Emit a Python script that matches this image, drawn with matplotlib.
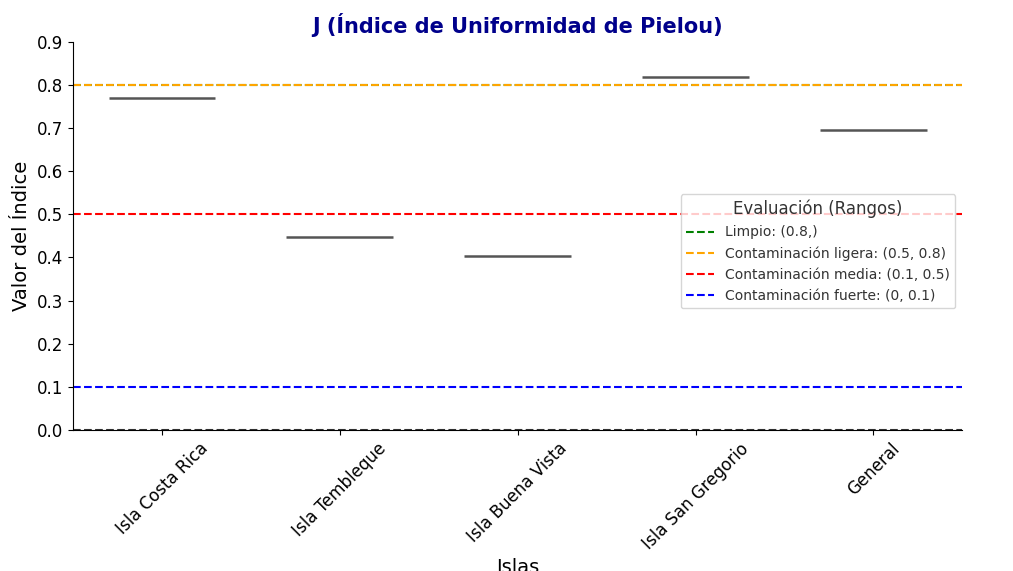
import matplotlib.pyplot as plt
import numpy as np

islas = ['Isla Costa Rica', 'Isla Tembleque', 'Isla Buena Vista', 'Isla San Gregorio', 'General']
valores_j = [0.770, 0.448, 0.404, 0.818, 0.695]

rangos = ['Limpio: (0.8,)', 'Contaminación ligera: (0.5, 0.8)',
          'Contaminación media: (0.1, 0.5)', 'Contaminación fuerte: (0, 0.1)']
umbrales = [0.8, 0.8, 0.5, 0.1]
colores = ['green', 'orange', 'red', 'blue']

fig = plt.figure(figsize=(10.13, 5.71), dpi=100)
ax = fig.add_axes([0.072, 0.247, 0.878, 0.68])

x = np.arange(len(islas))
ax.hlines(valores_j, x - 0.3, x + 0.3, color='#555555', lw=1.8, zorder=3)

for lab, y, c in zip(rangos, umbrales, colores):
    ax.axhline(y, color=c, ls='--', lw=1.5, label=lab)
ax.axhline(0, color='#333333', ls='--', lw=1.5)

ax.set_xlim(-0.5, 4.5)
ax.set_ylim(0, 0.9)
ax.set_yticks(np.arange(0, 0.91, 0.1))
ax.set_xticks(x)
ax.set_xticklabels(islas, rotation=45, ha='center', fontsize=12)
ax.tick_params(axis='y', labelsize=12)
ax.spines['top'].set_visible(False)
ax.spines['right'].set_visible(False)

ax.set_title('J (Índice de Uniformidad de Pielou)', fontsize=15, fontweight='bold', color='darkblue')
ax.set_xlabel('Islas', fontsize=14)
ax.xaxis.set_label_coords(0.5, -0.33)
ax.set_ylabel('Valor del Índice', fontsize=14)

leg = ax.legend(title='Evaluación (Rangos)', loc='center right', bbox_to_anchor=(1.0, 0.46),
                fontsize=10, title_fontsize=12)
for t in leg.get_texts():
    t.set_color('#333333')
leg.get_title().set_color('#333333')

plt.savefig('out.png', dpi=100)
